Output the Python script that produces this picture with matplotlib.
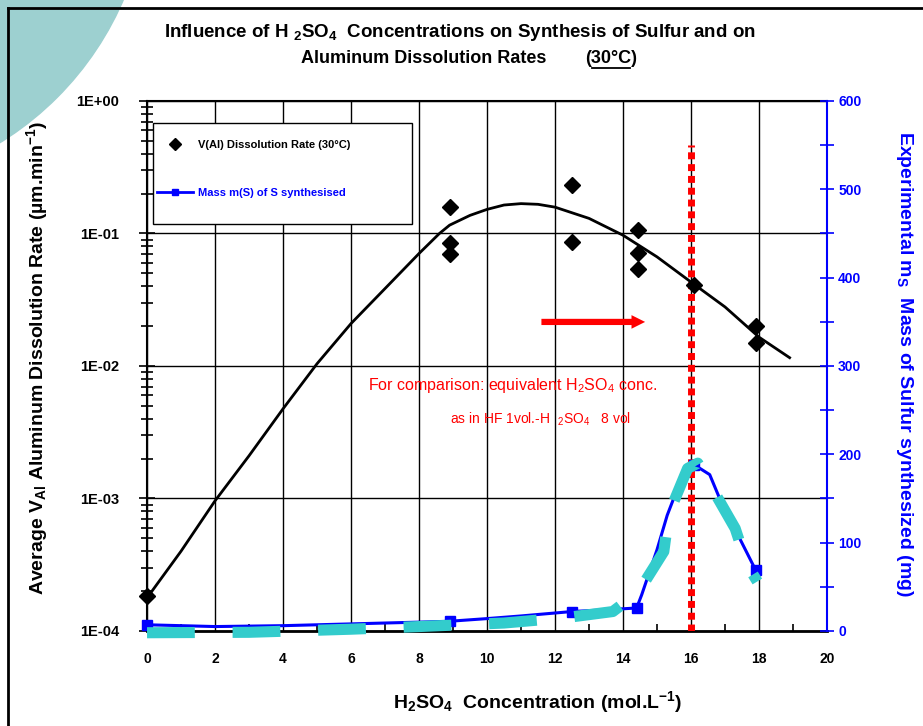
import numpy as np
import matplotlib
matplotlib.use('Agg')
import matplotlib.pyplot as plt
from matplotlib.patches import Rectangle, Ellipse
from matplotlib.lines import Line2D
from matplotlib.ticker import LogLocator, FuncFormatter, MultipleLocator, NullFormatter

plt.rcParams['font.family'] = ['Liberation Sans', 'DejaVu Sans']
plt.rcParams['font.weight'] = 'bold'
plt.rcParams['mathtext.default'] = 'regular'

# V(Al) dissolution rate measurements (um/min) - left log axis
rate_conc = [0, 8.9, 8.9, 8.9, 12.5, 12.5, 14.45, 14.45, 14.45, 16.1, 17.9, 17.9]
rate_vals = [1.85e-4, 0.158, 0.0845, 0.0697, 0.232, 0.086, 0.106, 0.071, 0.054, 0.0406, 0.0199, 0.015]

# trend curve drawn through the rates
trend_conc = [0.05, 1, 2, 3, 4, 5, 6, 7, 8, 8.6, 8.9, 9.5, 10, 10.5, 11, 11.5, 12, 13, 14, 15, 16, 17, 18, 18.9]
trend_vals = [1.85e-4, 4.0e-4, 9.6e-4, 2.1e-3, 4.75e-3, 0.0104, 0.0209, 0.0384, 0.0706, 0.1, 0.1156,
              0.137, 0.152, 0.164, 0.168, 0.166, 0.158, 0.13, 0.097, 0.0666, 0.043, 0.0279, 0.0165, 0.01155]

# mass of sulfur synthesised (mg) - right axis
mass_conc = [0, 2, 4, 6, 8, 8.9, 10, 11, 12.5, 13.5, 14.4, 14.55, 15.0, 15.3, 15.7, 16.1, 16.55, 16.95, 17.35, 17.9]
mass_vals = [7, 5, 6, 8, 10, 11, 14, 17, 22, 24, 26, 41, 92, 131, 171, 188, 177, 140, 111, 69]
mass_pts_conc = [0, 8.9, 12.5, 14.4, 16.1, 17.9]
mass_pts_vals = [7, 11, 22, 26, 188, 69]

# hand drawn cyan guide over the mass curve
guide_conc = [0, 3, 6, 8, 10.5, 12.3, 13.7, 14.45, 15.2, 15.35, 15.9, 16.2, 16.6, 17.3, 17.65, 17.95]
guide_vals = [-2, -1.5, 2, 5, 9, 15, 22, 44, 90, 133, 184, 190, 163, 116, 75, 56]

# equivalent concentration marker + arrow
equiv_conc = 16
equiv_top = 0.465
arrow_from, arrow_to, arrow_level = 11.6, 14.65, 0.0215

x_ticks = list(range(0, 21, 2))
mass_ticks = list(range(0, 601, 100))

fig = plt.figure(figsize=(9.23, 7.26), dpi=100)

# slide decoration: teal disc in the corner and the black frame
fig.add_artist(Ellipse((-165 / 923, 1 + 124.5 / 726), 2 * 314 / 923, 2 * 314 / 726,
                       transform=fig.transFigure, color='#9dd0d0', zorder=-1))
fig.add_artist(Line2D([8 / 923, 8 / 923], [0, 1 - 8 / 726], transform=fig.transFigure, color='black', lw=2))
fig.add_artist(Line2D([8 / 923, 1], [1 - 8 / 726, 1 - 8 / 726], transform=fig.transFigure, color='black', lw=2))

ax = fig.add_axes([0.1593, 0.1309, 0.7367, 0.730])
ax.set_yscale('log')
ax.set_ylim(1e-4, 1)
ax.set_xlim(0, 20)
ax.set_xticks(x_ticks)
ax.xaxis.set_minor_locator(MultipleLocator(1))
ax.yaxis.set_major_locator(LogLocator(base=10))
ax.yaxis.set_minor_locator(LogLocator(base=10, subs=np.arange(2, 10)))
ax.yaxis.set_minor_formatter(NullFormatter())
ax.yaxis.set_major_formatter(FuncFormatter(lambda v, p: '1E%+03d' % round(np.log10(v))))
ax.grid(True, which='major', color='black', lw=1.0)

ax.tick_params(axis='y', which='major', direction='inout', length=12, width=1.2, labelsize=10.5, pad=14)
ax.tick_params(axis='y', which='minor', direction='inout', length=8, width=1.2)
ax.tick_params(axis='x', which='major', direction='in', length=0, labelsize=10, pad=15)
ax.tick_params(axis='x', which='minor', direction='in', length=5, width=1.2)
ax.spines['right'].set_visible(False)
ax.spines['left'].set_linewidth(1.5)
ax.spines['top'].set_linewidth(1.5)
ax.spines['bottom'].set_linewidth(2)

ax.plot(trend_conc, trend_vals, color='black', lw=2, zorder=4)
dots, = ax.plot(rate_conc, rate_vals, ls='none', marker='D', ms=8, color='black', zorder=5, clip_on=False)
ax.plot([equiv_conc, equiv_conc], [1e-4, equiv_top], color='red', lw=5, ls=(0, (1, 0.7)),
        dash_capstyle='butt', zorder=3)
ax.annotate('', xy=(arrow_to, arrow_level), xytext=(arrow_from, arrow_level),
            arrowprops=dict(arrowstyle='simple,head_length=0.7,head_width=0.7,tail_width=0.32',
                            color='red', lw=0, mutation_scale=14, shrinkA=0, shrinkB=0))

red_font = ['Liberation Sans Narrow', 'Liberation Sans']
ax.text(0.538, 0.464, 'For comparison: equivalent H$_2$SO$_4$ conc.', transform=ax.transAxes,
        color='red', fontsize=11.5, fontweight='normal', ha='center', va='center', family=red_font)
ax.text(0.578, 0.400, 'as in HF 1vol.-H  $_2$SO$_4$   8 vol', transform=ax.transAxes,
        color='red', fontsize=10, fontweight='normal', ha='center', va='center', family=red_font)

# legend box
ax.add_patch(Rectangle((0.0093, 0.768), 0.3797, 0.191, transform=ax.transAxes,
                       fc='white', ec='black', lw=1, zorder=3))

ax2 = ax.twinx()
ax2.set_ylim(0, 600)
ax2.set_yticks(mass_ticks)
ax2.yaxis.set_minor_locator(MultipleLocator(50))
ax2.tick_params(axis='y', which='both', colors='blue', direction='inout', length=10, width=1.2,
                labelsize=10, pad=3)
for s in ['left', 'top', 'bottom']:
    ax2.spines[s].set_visible(False)
ax2.spines['right'].set_color('blue')
ax2.spines['right'].set_linewidth(1.5)

ax2.plot(mass_conc, mass_vals, color='blue', lw=2.2, zorder=3)
ax2.plot(mass_pts_conc, mass_pts_vals, ls='none', marker='s', ms=6.5, color='blue', zorder=3, clip_on=False)
ax2.plot(guide_conc, guide_vals, color='#33cccc', lw=8, ls=(0, (4.3, 3.4)), dash_capstyle='butt',
         zorder=4, clip_on=False)

mass_proxy = Line2D([], [], color='blue', lw=2, marker='s', ms=5)
leg = ax.legend([dots, mass_proxy], ['V(Al) Dissolution Rate (30°C)', 'Mass m(S) of S synthesised'],
                loc='upper left', bbox_to_anchor=(0.0143, 0.926), frameon=False, borderpad=0,
                borderaxespad=0, handlelength=3.3, handletextpad=0.45, labelspacing=3.4,
                fontsize=8, markerscale=0.75)
leg.set_zorder(6)
for t, c in zip(leg.get_texts(), ['black', 'blue']):
    t.set_color(c)

# titles and axis labels
fig.text(0.498, 0.955, 'Influence of H $_2$SO$_4$  Concentrations on Synthesis of Sulfur and on',
         ha='center', va='center', fontsize=13.5)
fig.text(546 / 923, 0.920, 'Aluminum Dissolution Rates', ha='right', va='center', fontsize=13)
t30 = fig.text(585 / 923, 0.920, '(30°C)', ha='left', va='center', fontsize=13)
fig.text(0.040, 1 - 358 / 726, 'Average V$_{Al}$ Aluminum Dissolution Rate (µm.min$^{-1}$)',
         rotation=90, ha='center', va='center', fontsize=14)
fig.text(0.980, 1 - 364 / 726, 'Experimental m$_S$  Mass of Sulfur synthesized (mg)',
         rotation=270, ha='center', va='center', fontsize=14, color='blue')
fig.text(0.583, 0.033, 'H$_2$SO$_4$  Concentration (mol.L$^{-1}$)', ha='center', va='center', fontsize=14)

# underline 30°C
bb = t30.get_window_extent(fig.canvas.get_renderer())
w = bb.width
fig.add_artist(Line2D([(bb.x0 + 0.13 * w) / 923, (bb.x1 - 0.13 * w) / 923], [1 - 68 / 726] * 2,
                      transform=fig.transFigure, color='black', lw=1.3))

fig.savefig('out.png', dpi=100, facecolor='white')
